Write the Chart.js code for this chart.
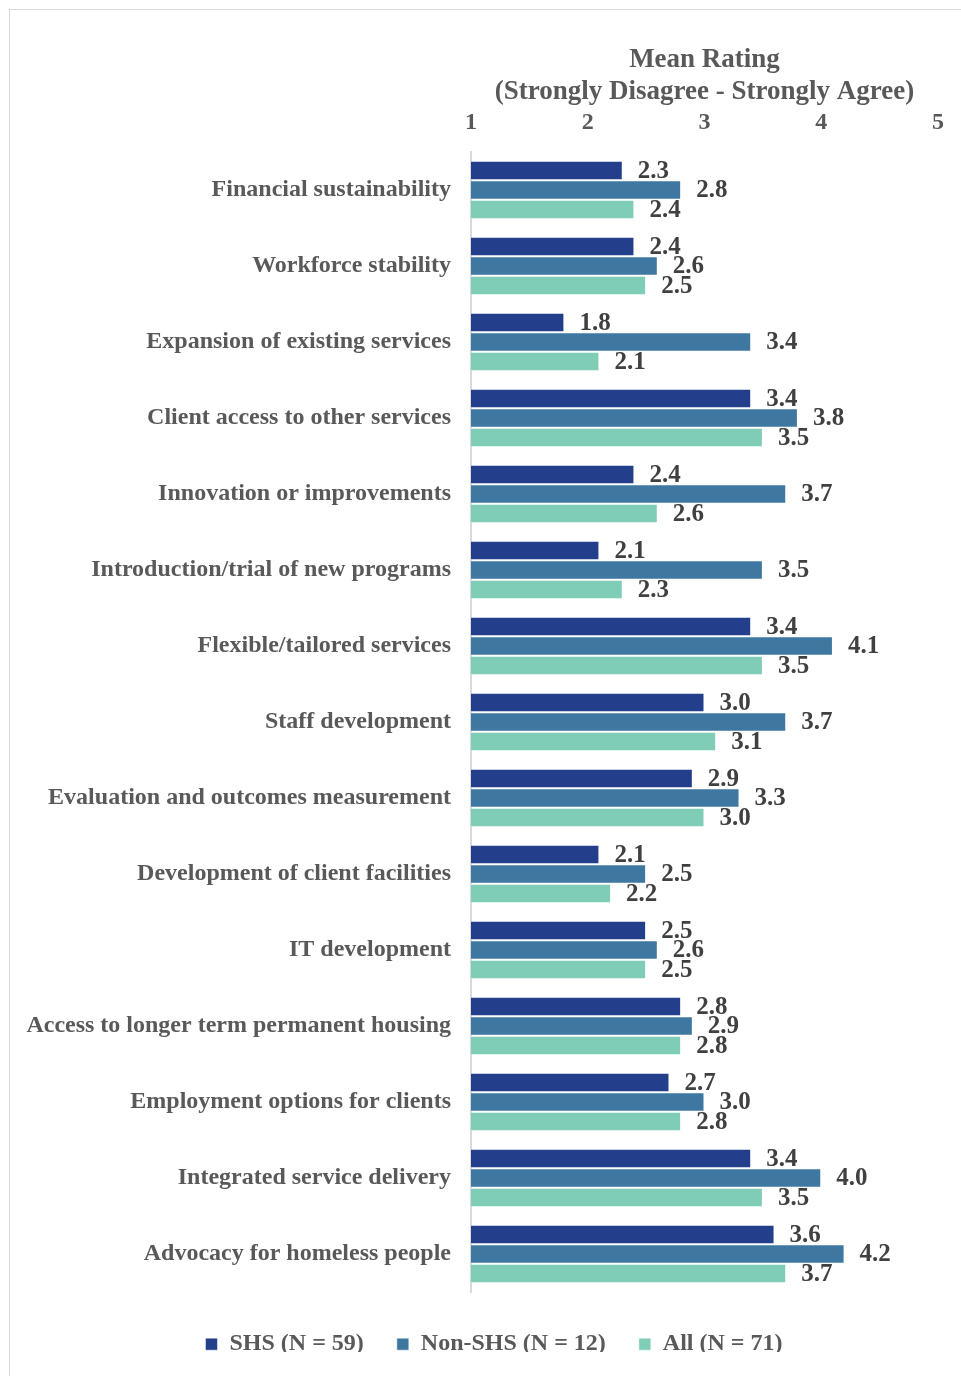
<!DOCTYPE html>
<html>
<head>
<meta charset="utf-8">
<script src="https://cdn.jsdelivr.net/npm/chart.js@4.4.0/dist/chart.umd.min.js"></script>
<style>
  body { margin: 0; background: #fff; overflow: hidden; }
  #cadre { position: absolute; left: 9px; top: 9px; width: 970px; height: 1400px; border: 1px solid #d9d9d9; }
  #graphe { position: absolute; left: 0; top: 0; }
</style>
</head>
<body>
<div id="cadre"></div>
<canvas id="graphe" width="961" height="1376"></canvas>
<script>
// les donnees
const categories = [
  'Financial sustainability',
  'Workforce stability',
  'Expansion of existing services',
  'Client access to other services',
  'Innovation or improvements',
  'Introduction/trial of new programs',
  'Flexible/tailored services',
  'Staff development',
  'Evaluation and outcomes measurement',
  'Development of client facilities',
  'IT development',
  'Access to longer term permanent housing',
  'Employment options for clients',
  'Integrated service delivery',
  'Advocacy for homeless people'
]
const serieNoms = ['SHS (N = 59)', 'Non-SHS (N = 12)', 'All (N = 71)']
const shs    = [2.3, 2.4, 1.8, 3.4, 2.4, 2.1, 3.4, 3.0, 2.9, 2.1, 2.5, 2.8, 2.7, 3.4, 3.6]
const nonShs = [2.8, 2.6, 3.4, 3.8, 3.7, 3.5, 4.1, 3.7, 3.3, 2.5, 2.6, 2.9, 3.0, 4.0, 4.2]
const tous   = [2.4, 2.5, 2.1, 3.5, 2.6, 2.3, 3.5, 3.1, 3.0, 2.2, 2.5, 2.8, 2.8, 3.5, 3.7]
const ticksX = [1, 2, 3, 4, 5]
const titreX = ['Mean Rating', '(Strongly Disagree - Strongly Agree)']

const police = "'Liberation Serif', 'Times New Roman', serif"
const gauche = 50

// les valeurs a droite des barres
const etiquettes = {
  id: 'etiquettes',
  afterDatasetsDraw(chart) {
    const ctx = chart.ctx
    ctx.save()
    ctx.font = 'bold 25px ' + police
    ctx.fillStyle = '#404040'
    ctx.textAlign = 'left'
    ctx.textBaseline = 'middle'
    chart.data.datasets.forEach((ds, i) => {
      chart.getDatasetMeta(i).data.forEach((barre, j) => {
        ctx.fillText(ds.data[j].toFixed(1), barre.x + 15, barre.y + 1)
      })
    })
    ctx.restore()
  }
}

const graphe = document.querySelector('#graphe')
new Chart(graphe, {
  type: 'bar',
  data: {
    labels: categories,
    datasets: [{
      label: serieNoms[0],
      data: shs,
      backgroundColor: '#233f8c',
      borderColor: 'rgba(255,255,255,0.5)',
      borderWidth: 1
    }, {
      label: serieNoms[1],
      data: nonShs,
      backgroundColor: '#3e77a0',
      borderColor: 'rgba(255,255,255,0.5)',
      borderWidth: 1
    }, {
      label: serieNoms[2],
      data: tous,
      backgroundColor: '#80cdb7',
      borderColor: 'rgba(255,255,255,0.5)',
      borderWidth: 1
    }]
  },
  options: {
    indexAxis: 'y',
    responsive: false,
    animation: false,
    layout: { padding: { top: 45, left: gauche, right: 23, bottom: 24 } },
    datasets: { bar: { categoryPercentage: 0.77, barPercentage: 1.0 } },
    scales: {
      x: {
        position: 'top',
        min: 1,
        max: 5,
        afterBuildTicks: (s) => { s.ticks = ticksX.map(v => ({ value: v })) },
        afterFit: (s) => { s.height = 107 },
        grid: { display: false, drawTicks: false },
        border: { display: false },
        ticks: {
          padding: 15,
          color: '#595959',
          font: { family: police, size: 24, weight: 'bold' }
        },
        title: {
          display: true,
          text: titreX,
          color: '#595959',
          padding: { top: 0, bottom: 0 },
          font: { family: police, size: 27, weight: 'bold', lineHeight: 1.15 }
        }
      },
      y: {
        afterFit: (s) => {
          s.width = 471 - gauche
          // les longs libelles debordent a gauche, pas de coupure
          s._computeLabelArea = () => undefined
        },
        grid: { display: false, drawTicks: false },
        border: { display: true, color: '#d9d9d9', width: 2 },
        ticks: {
          padding: 20,
          color: '#595959',
          font: { family: police, size: 24, weight: 'bold' }
        }
      }
    },
    plugins: {
      legend: {
        position: 'bottom',
        maxHeight: 60,
        // titre vide juste pour descendre la legende
        title: { display: true, text: '', padding: { top: 6, bottom: 0 }, font: { size: 1 } },
        labels: {
          boxWidth: 12,
          boxHeight: 12,
          padding: 33,
          color: '#595959',
          font: { family: police, size: 24, weight: 'bold' }
        }
      },
      tooltip: { enabled: false }
    }
  },
  plugins: [etiquettes]
})
</script>
</body>
</html>
